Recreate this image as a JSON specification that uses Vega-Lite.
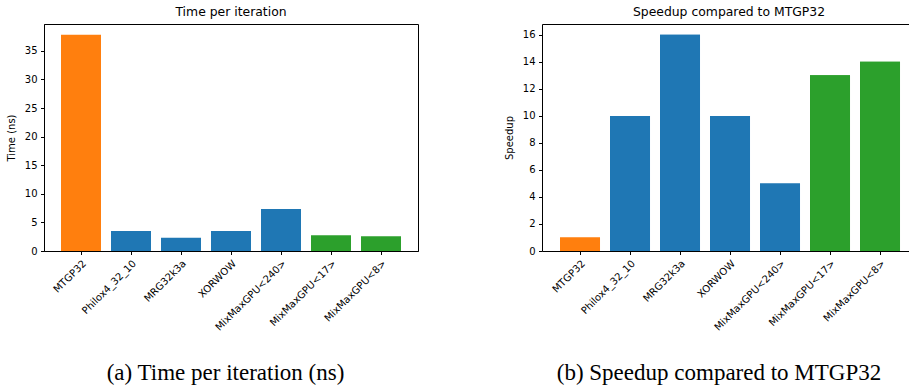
{
  "$schema": "https://vega.github.io/schema/vega-lite/v6.json",
  "padding": {"left": 5, "top": 5, "right": 0, "bottom": 0},
  "background": "white",
  "config": {
    "font": "DejaVu Sans",
    "view": {"stroke": "#000", "strokeWidth": 1},
    "axis": {"labelFont": "DejaVu Sans", "labelFontSize": 10, "labelColor": "#000", "titleFont": "DejaVu Sans", "titleFontSize": 10, "titleFontWeight": "normal", "titleColor": "#000", "domainColor": "#000", "tickColor": "#000", "tickSize": 3.5, "labelPadding": 3.5, "grid": false},
    "title": {"font": "DejaVu Sans", "fontSize": 12.4, "fontWeight": "normal", "color": "#000", "offset": 6},
    "concat": {"spacing": 85}
  },
  "datasets": {
    "rng": [
      {"generator": "MTGP32", "group": "baseline", "time": 37.8, "speedup": 1},
      {"generator": "Philox4_32_10", "group": "curand", "time": 3.5, "speedup": 10},
      {"generator": "MRG32k3a", "group": "curand", "time": 2.3, "speedup": 16},
      {"generator": "XORWOW", "group": "curand", "time": 3.5, "speedup": 10},
      {"generator": "MixMaxGPU<240>", "group": "curand", "time": 7.35, "speedup": 5},
      {"generator": "MixMaxGPU<17>", "group": "mixmax", "time": 2.75, "speedup": 13},
      {"generator": "MixMaxGPU<8>", "group": "mixmax", "time": 2.6, "speedup": 14}
    ]
  },
  "hconcat": [
    {
      "title": "Time per iteration",
      "width": 374,
      "height": 227,
      "data": {"name": "rng"},
      "mark": {"type": "bar"},
      "encoding": {
        "x": {"field": "generator", "type": "nominal", "sort": null,
          "scale": {"paddingInner": 0.2, "paddingOuter": 0.34},
          "axis": {"title": "(a) Time per iteration (ns)", "titleFont": "Liberation Serif", "titleFontSize": 23, "titleX": 181, "titleY": 128, "titleBaseline": "alphabetic", "titleAlign": "center", "labelAngle": -45, "labelAlign": "right", "labelBaseline": "top"}},
        "y": {"field": "time", "type": "quantitative",
          "scale": {"domain": [0, 39.7], "nice": false},
          "axis": {"title": "Time (ns)", "values": [0, 5, 10, 15, 20, 25, 30, 35], "titlePadding": 8}},
        "color": {"field": "group", "type": "nominal",
          "scale": {"domain": ["baseline", "curand", "mixmax"], "range": ["#ff7f0e", "#1f77b4", "#2ca02c"]},
          "legend": null}
      }
    },
    {
      "title": {"text": "Speedup compared to MTGP32", "dx": 3.5},
      "width": 367,
      "height": 227,
      "data": {"name": "rng"},
      "view": {"stroke": null},
      "resolve": {"axis": {"x": "independent"}},
      "layer": [
        {
          "mark": {"type": "bar"},
          "encoding": {
            "x": {"field": "generator", "type": "nominal", "sort": null,
              "scale": {"paddingInner": 0.2, "paddingOuter": 0.27, "align": 0.667},
              "axis": {"title": "(b) Speedup compared to MTGP32", "titleFont": "Liberation Serif", "titleFontSize": 23, "titleX": 176.5, "titleY": 128, "titleBaseline": "alphabetic", "titleAlign": "center", "labelAngle": -45, "labelAlign": "right", "labelBaseline": "top"}},
            "y": {"field": "speedup", "type": "quantitative",
              "scale": {"domain": [0, 16.8], "nice": false},
              "axis": {"title": "Speedup", "values": [0, 2, 4, 6, 8, 10, 12, 14, 16], "titlePadding": 8}},
            "color": {"field": "group", "type": "nominal",
              "scale": {"domain": ["baseline", "curand", "mixmax"], "range": ["#ff7f0e", "#1f77b4", "#2ca02c"]},
              "legend": null}
          }
        },
        {
          "mark": {"type": "bar"},
          "encoding": {
            "x": {"field": "generator", "type": "nominal", "sort": null,
              "axis": {"orient": "top", "labels": false, "ticks": false, "title": null, "domain": true}},
            "y": {"field": "speedup", "type": "quantitative",
              "axis": {"title": "Speedup", "values": [0, 2, 4, 6, 8, 10, 12, 14, 16], "titlePadding": 8}},
            "color": {"field": "group", "type": "nominal", "legend": null}
          }
        }
      ]
    }
  ]
}
